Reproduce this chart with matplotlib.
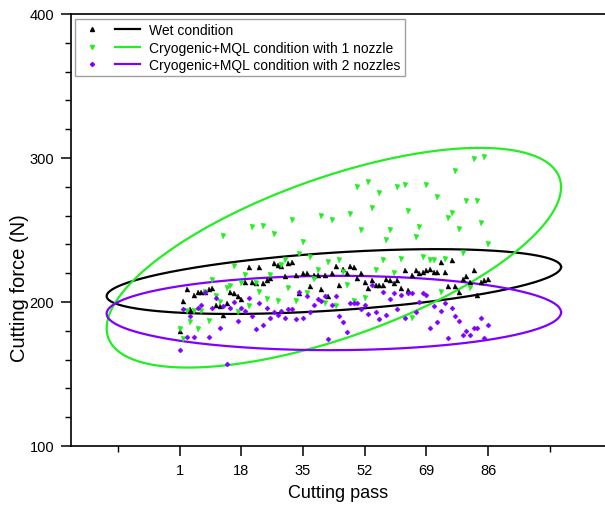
import numpy as np
import matplotlib
matplotlib.use("Agg")
import matplotlib.pyplot as plt
from matplotlib.lines import Line2D
from matplotlib.legend_handler import HandlerTuple

plt.rcParams['font.family'] = ['Liberation Sans', 'DejaVu Sans']

# ---------------- data ----------------
passes = list(range(1, 87))
x_ticks = [1, 18, 35, 52, 69, 86]
y_ticks = [100, 200, 300, 400]

wet = [180, 201, 209, 195, 205, 207, 207, 207, 209, 210,
       198, 197, 191, 199, 207, 206, 204, 202, 214, 224,
       214, 213, 224, 213, 215, 217, 227, 226, 225, 218,
       227, 228, 219, 206, 220, 220, 211, 219, 219, 209,
       219, 204, 220, 225, 212, 223, 220, 225, 224, 217,
       220, 214, 210, 215, 212, 212, 212, 216, 215, 213,
       215, 210, 222, 208, 219, 222, 220, 221, 222, 223,
       221, 221, 228, 221, 211, 229, 211, 207, 216, 218,
       214, 222, 205, 214, 215, 216]

cryo1 = [181, 174, 194, 186, 194, 181, 194, 207, 187, 215,
         204, 200, 246, 210, 211, 225, 193, 213, 219, 197,
         252, 213, 207, 253, 202, 219, 247, 201, 226, 229,
         210, 257, 201, 233, 242, 206, 231, 216, 222, 260,
         199, 228, 257, 197, 229, 221, 212, 261, 201, 280,
         250, 203, 283, 265, 222, 276, 229, 243, 250, 220,
         280, 230, 281, 263, 189, 245, 252, 231, 281, 229,
         229, 273, 207, 230, 258, 262, 291, 251, 234, 270,
         210, 299, 270, 255, 301, 240]

cryo2 = [167, 195, 176, 190, 176, 196, 198, 207, 176, 196,
         203, 182, 197, 157, 196, 200, 187, 196, 194, 203,
         190, 181, 199, 184, 196, 189, 193, 191, 194, 189,
         195, 195, 188, 207, 189, 204, 193, 198, 202, 201,
         204, 174, 198, 204, 190, 186, 179, 199, 199, 199,
         195, 198, 192, 212, 193, 188, 207, 191, 202, 206,
         195, 205, 189, 206, 206, 193, 200, 206, 205, 182,
         197, 186, 194, 199, 175, 196, 190, 187, 177, 180,
         177, 182, 182, 189, 175, 184]

labels = ["Wet condition",
          "Cryogenic+MQL condition with 1 nozzle",
          "Cryogenic+MQL condition with 2 nozzles"]
colors = ["#000000", "#22EE22", "#8000FF"]
markers = ["^", "v", "D"]
msizes = [3.6, 3.6, 2.6]

# ---------------- figure ----------------
W, H = 605, 510
fig = plt.figure(figsize=(W / 100, H / 100), dpi=100)
left_px, top_px, bottom_px = 70.7, 15, 447
ax = fig.add_axes([left_px / W, 1 - bottom_px / H,
                   (W - left_px) / W, (bottom_px - top_px) / H])


def confidence_ellipse(x, y, fcrit=3.105, npts=400):
    x = np.asarray(x, float)
    y = np.asarray(y, float)
    n = len(x)
    cov = np.cov(x, y)
    k = np.sqrt(2 * (n - 1) / (n - 2) * fcrit)
    L = np.linalg.cholesky(cov)
    t = np.linspace(0, 2 * np.pi, npts)
    circ = np.vstack([np.cos(t), np.sin(t)])
    pts = (L @ circ) * k
    return x.mean() + pts[0], y.mean() + pts[1]


handles = []
for ys, c, m, ms, lab in zip([wet, cryo1, cryo2], colors, markers, msizes, labels):
    ax.plot(passes, ys, linestyle='none', marker=m, markersize=ms,
            color=c, markeredgewidth=0.3, zorder=3)
    ex, ey = confidence_ellipse(passes, ys)
    ax.plot(ex, ey, color=c, linewidth=1.6, zorder=2)
    h_m = Line2D([], [], linestyle='none', marker=m, markersize=ms * 0.8, color=c)
    h_l = Line2D([], [], color=c, linewidth=1.6)
    handles.append((h_m, h_l))

ax.set_xlim(-29, 118.2)
ax.set_ylim(100, 400)
ax.set_xticks(x_ticks)
ax.set_xticks([-16, 103], minor=True)
ax.set_yticks(y_ticks)
ax.set_yticks(np.arange(120, 400, 20), minor=True)

ax.tick_params(axis='both', which='major', direction='out', length=7,
               width=1.1, labelsize=10.5, pad=5)
ax.tick_params(axis='both', which='minor', direction='out', length=4, width=1.0)
ax.tick_params(top=False, right=False)

for s in ['left', 'bottom', 'top']:
    ax.spines[s].set_linewidth(1.2)
ax.spines['right'].set_visible(False)

ax.set_xlabel("Cutting pass", fontsize=13, labelpad=5)
ax.set_ylabel("Cutting force (N)", fontsize=14.5)
ax.yaxis.set_label_coords((29 - left_px) / (W - left_px),
                          (bottom_px - 288) / (bottom_px - top_px))

leg = ax.legend(handles, labels,
                handler_map={tuple: HandlerTuple(ndivide=2, pad=0.7)},
                loc='upper left', bbox_to_anchor=(75 / W, 1 - 20 / H),
                bbox_transform=fig.transFigure, borderaxespad=0,
                fontsize=10, frameon=True, fancybox=False,
                handlelength=4.4, handletextpad=0.65, labelspacing=0.25,
                borderpad=0.3)
leg.get_frame().set_edgecolor('#888888')
leg.get_frame().set_linewidth(1.0)

fig.savefig("out.png", dpi=100)
